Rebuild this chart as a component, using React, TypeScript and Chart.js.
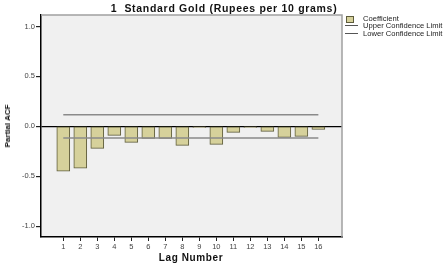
import React, { useEffect, useRef } from "react";
import { Chart, registerables } from "chart.js";

Chart.register(...registerables);

const lags = [1, 2, 3, 4, 5, 6, 7, 8, 9, 10, 11, 12, 13, 14, 15, 16];
const pacf = [-0.45, -0.42, -0.22, -0.09, -0.16, -0.12, -0.12, -0.19, -0.01, -0.18, -0.06, -0.01, -0.05, -0.11, -0.1, -0.03];
const upperLimit = [0.117, 0.117, 0.117, 0.117, 0.117, 0.117, 0.117, 0.117, 0.117, 0.117, 0.117, 0.117, 0.117, 0.117, 0.117, 0.117];
const lowerLimit = [-0.117, -0.117, -0.117, -0.117, -0.117, -0.117, -0.117, -0.117, -0.117, -0.117, -0.117, -0.117, -0.117, -0.117, -0.117, -0.117];
const yTicks = [-1, -0.5, 0, 0.5, 1];

const title = "1  Standard Gold (Rupees per 10 grams)";
const xTitle = "Lag Number";
const yTitle = "Partial ACF";
const legendLabels = ["Coefficient", "Upper Confidence Limit", "Lower Confidence Limit"];

const FONT = "'Liberation Sans', Arial, sans-serif";
const BAR_FILL = "#d6d19b";
const BAR_BORDER = "#5e5c3c";
const LINE_COLOR = "#8a8a8a";

const framePlugin = {
  id: "frame",
  beforeDraw(chart: any) {
    const { ctx, chartArea: a } = chart;
    ctx.save();
    ctx.fillStyle = "#f0f0f0";
    ctx.fillRect(a.left, a.top, a.right - a.left, a.bottom - a.top);
    ctx.restore();
  },
  afterDraw(chart: any) {
    const { ctx, chartArea: a } = chart;
    ctx.save();
    ctx.strokeStyle = "#a0a0a0";
    ctx.lineWidth = 1.5;
    ctx.beginPath();
    ctx.moveTo(a.left, a.top);
    ctx.lineTo(a.right, a.top);
    ctx.lineTo(a.right, a.bottom);
    ctx.stroke();
    ctx.restore();
  },
};

export default function App() {
  const ref = useRef<HTMLCanvasElement>(null);

  useEffect(() => {
    if (!ref.current) return;
    const chart = new Chart(ref.current, {
      type: "bar",
      data: {
        datasets: [
          {
            type: "line",
            label: legendLabels[1],
            data: lags.map((l, i) => ({ x: l, y: upperLimit[i] })),
            borderColor: LINE_COLOR,
            borderWidth: 1.5,
            pointRadius: 0,
            order: 1,
          } as any,
          {
            type: "line",
            label: legendLabels[2],
            data: lags.map((l, i) => ({ x: l, y: lowerLimit[i] })),
            borderColor: LINE_COLOR,
            borderWidth: 1.5,
            pointRadius: 0,
            order: 1,
          } as any,
          {
            type: "bar",
            label: legendLabels[0],
            data: lags.map((l, i) => ({ x: l, y: pacf[i] })),
            backgroundColor: BAR_FILL,
            borderColor: BAR_BORDER,
            borderWidth: 1,
            borderSkipped: false,
            barThickness: 13,
            order: 2,
          } as any,
        ],
      },
      options: {
        responsive: false,
        animation: false,
        devicePixelRatio: 1,
        layout: { padding: { left: 0, right: 103, top: 15, bottom: 0 } },
        plugins: {
          legend: { display: false },
          title: { display: false },
          tooltip: { enabled: false },
        },
        scales: {
          x: {
            type: "linear",
            offset: false,
            min: -0.31,
            max: 17.39,
            afterBuildTicks: (s: any) => {
              s.ticks = lags.map((v) => ({ value: v }));
            },
            afterFit: (s: any) => {
              s.height = 39;
            },
            grid: {
              offset: false,
              drawOnChartArea: false,
              drawTicks: true,
              tickLength: 4,
              tickColor: "#222",
            },
            border: { display: true, color: "#000", width: 1.5 },
            ticks: {
              autoSkip: false,
              maxRotation: 0,
              padding: 1,
              color: "#444",
              font: { family: FONT, size: 7.5 },
              callback: (v: any) => String(v),
            },
          },
          y: {
            type: "linear",
            min: -1.108,
            max: 1.115,
            afterBuildTicks: (s: any) => {
              s.ticks = yTicks.map((v) => ({ value: v }));
            },
            afterFit: (s: any) => {
              s.width = 41;
            },
            grid: {
              drawOnChartArea: true,
              drawTicks: true,
              tickLength: 5,
              tickColor: "#222",
              color: (c: any) => (c.tick && c.tick.value === 0 ? "#000" : "rgba(0,0,0,0)"),
              lineWidth: 1.2,
            },
            border: { display: true, color: "#000", width: 1.5 },
            ticks: {
              padding: 1,
              color: "#444",
              font: { family: FONT, size: 7.5 },
              callback: (v: any) => Number(v).toFixed(1),
            },
          },
        },
      } as any,
      plugins: [framePlugin],
    });
    return () => chart.destroy();
  }, []);

  const textBase: React.CSSProperties = {
    position: "absolute",
    fontFamily: FONT,
    lineHeight: 1,
    whiteSpace: "pre",
    color: "#111",
  };

  return (
    <div style={{ position: "fixed", left: 0, top: 0, width: 445, height: 276, background: "#fff" }}>
      <canvas ref={ref} width={445} height={276} style={{ display: "block", width: 445, height: 276 }} />
      <div
        style={{
          ...textBase,
          left: 224,
          top: 8,
          transform: "translate(-50%, -50%)",
          fontSize: 10.5,
          fontWeight: "bold",
          letterSpacing: 0.7,
        }}
      >
        {title}
      </div>
      <div
        style={{
          ...textBase,
          left: 191,
          top: 258,
          transform: "translate(-50%, -50%)",
          fontSize: 10,
          fontWeight: "bold",
          letterSpacing: 0.6,
        }}
      >
        {xTitle}
      </div>
      <div
        style={{
          ...textBase,
          left: 8,
          top: 126,
          transform: "translate(-50%, -50%) rotate(-90deg)",
          fontSize: 8,
          fontWeight: "bold",
        }}
      >
        {yTitle}
      </div>
      <div
        style={{
          position: "absolute",
          left: 346,
          top: 16,
          width: 6,
          height: 5,
          background: BAR_FILL,
          border: `1px solid ${BAR_BORDER}`,
        }}
      />
      <div style={{ position: "absolute", left: 345, top: 25, width: 13, height: 1, background: "#555" }} />
      <div style={{ position: "absolute", left: 345, top: 33, width: 13, height: 1, background: "#555" }} />
      {legendLabels.map((t, i) => (
        <div
          key={t}
          style={{
            ...textBase,
            left: 363,
            top: [19.3, 25.7, 33.5][i],
            transform: "translateY(-50%)",
            fontSize: 7.6,
            color: "#222",
          }}
        >
          {t}
        </div>
      ))}
    </div>
  );
}
